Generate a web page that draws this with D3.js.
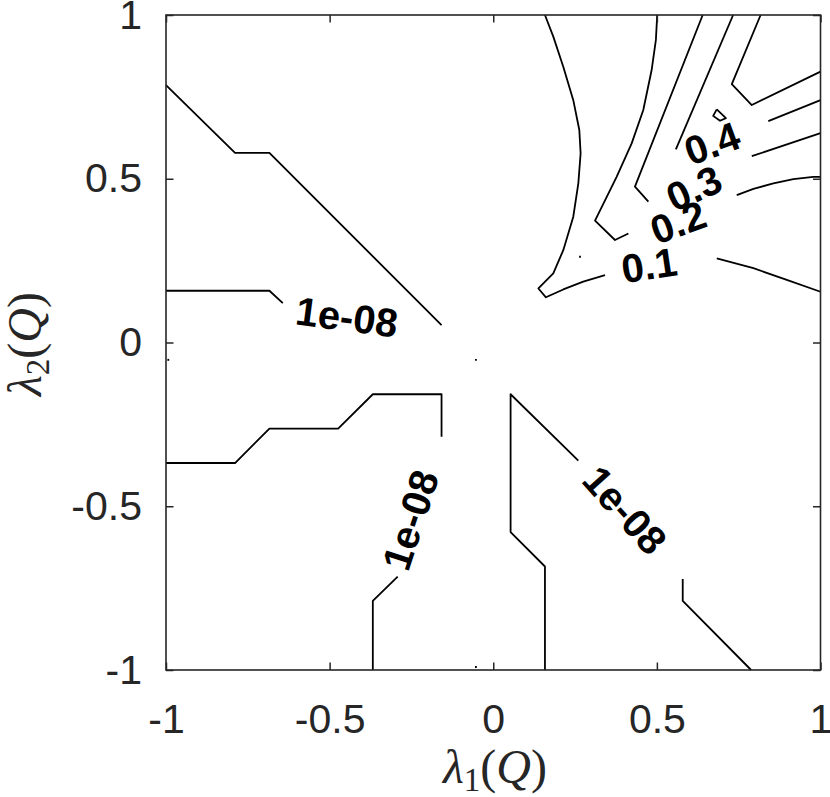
<!DOCTYPE html>
<html>
<head>
<meta charset="utf-8">
<script src="https://cdn.jsdelivr.net/npm/d3@7"></script>
<style>
  html, body { margin: 0; padding: 0; background: #fff; }
  svg { display: block; }
</style>
</head>
<body>
<svg id="chart" width="830" height="797"></svg>
<script>
// ---------- data (in data coordinates) ----------
const xTicks = [-1, -0.5, 0, 0.5, 1];
const yTicks = [-1, -0.5, 0, 0.5, 1];
const xTickLabels = ["-1", "-0.5", "0", "0.5", "1"];
const yTickLabels = ["-1", "-0.5", "0", "0.5", "1"];

// contour level 1e-08 (pieces separated by the labels)
const level1e8Lines = [
  [[-1, 0.786], [-0.789, 0.579], [-0.684, 0.579], [-0.158, 0.053]],
  [[-1, 0.158], [-0.684, 0.158], [-0.643, 0.120]],
  [[-1, -0.368], [-0.789, -0.368], [-0.684, -0.263], [-0.474, -0.263], [-0.368, -0.158], [-0.158, -0.158], [-0.158, -0.288]],
  [[-0.292, -0.715], [-0.368, -0.789], [-0.368, -1]],
  [[0.158, -1], [0.158, -0.684], [0.053, -0.579], [0.053, -0.158], [0.260, -0.361]],
  [[0.579, -0.722], [0.579, -0.789], [0.788, -1]]
];
// contour level 0.1
const level01Lines = [
  [[0.158, 1], [0.1835, 0.934], [0.214, 0.842], [0.2446, 0.740], [0.263, 0.649], [0.267, 0.578],
   [0.260, 0.486], [0.2446, 0.384], [0.214, 0.282], [0.1835, 0.211], [0.138, 0.165], [0.161, 0.138],
   [0.214, 0.162], [0.275, 0.186], [0.3415, 0.206]],
  [[0.683, 0.257], [0.795, 0.227], [0.897, 0.191], [1, 0.155]]
];
// contour level 0.2
const level02Lines = [
  [[0.501, 1], [0.497, 0.924], [0.484, 0.832], [0.4585, 0.710], [0.423, 0.608], [0.377, 0.506],
   [0.311, 0.372], [0.372, 0.313], [0.413, 0.333]],
  [[0.744, 0.450], [0.795, 0.469], [0.856, 0.486], [0.917, 0.499], [0.978, 0.506], [1, 0.506]]
];
// contour level 0.3
const level03Lines = [
  [[0.640, 1], [0.433, 0.476], [0.474, 0.430]],
  [[0.790, 0.569], [1, 0.639]]
];
// contour level 0.4
const level04Lines = [
  [[0.733, 1], [0.558, 0.590]],
  [[0.8405, 0.676], [1, 0.740]]
];
// contour level 0.5 (unlabelled) and a tiny closed loop
const level05Lines = [
  [[0.817, 1], [0.729, 0.789], [0.790, 0.725], [1, 0.827]],
  [[0.683, 0.712], [0.711, 0.685], [0.693, 0.677], [0.672, 0.692], [0.683, 0.712]]
];
// tiny contour specks
const speckLines = [
  [[0.265, 0.265], [0.265, 0.259]],
  [[-0.993, -0.050], [-0.993, -0.056]],
  [[-0.053, -0.050], [-0.053, -0.056]],
  [[-0.053, -0.988], [-0.053, -0.994]]
];

// contour labels
const labelTexts = ["1e-08", "1e-08", "1e-08", "0.1", "0.2", "0.3", "0.4"];
const labelX     = [-0.447, -0.254, 0.403, 0.476, 0.5645, 0.613, 0.668];
const labelY     = [0.079, -0.542, -0.511, 0.237, 0.368, 0.472, 0.609];
const labelAngle = [7.5, -72, 48, -8.5, -20, -24, -20];

// ---------- drawing ----------
const svg = d3.select("#chart");
const L = 166, R = 820.5, T = 15, B = 670;
const x = d3.scaleLinear().domain([-1, 1]).range([L, R]);
const y = d3.scaleLinear().domain([-1, 1]).range([B, T]);
const axisColor = "#262626";
const tickFont = "'Liberation Sans', Arial, Helvetica, sans-serif";

const line = d3.line().x(d => x(d[0])).y(d => y(d[1]));

const allLines = [].concat(level1e8Lines, level01Lines, level02Lines, level03Lines,
                           level04Lines, level05Lines, speckLines);

svg.append("g")
  .selectAll("path")
  .data(allLines)
  .join("path")
  .attr("d", line)
  .attr("fill", "none")
  .attr("stroke", "#000")
  .attr("stroke-width", 1.8)
  .attr("stroke-linejoin", "round");

// contour labels
svg.append("g")
  .selectAll("text")
  .data(labelTexts)
  .join("text")
  .attr("transform", (d, i) => `translate(${x(labelX[i])},${y(labelY[i])}) rotate(${labelAngle[i]})`)
  .attr("text-anchor", "middle")
  .attr("dy", "0.36em")
  .attr("font-family", tickFont)
  .attr("font-weight", "bold")
  .attr("font-size", 40)
  .attr("fill", "#000")
  .text(d => d);

// axes (ticks inward on all four sides)
function styleAxis(g) {
  g.select(".domain").remove();
  g.selectAll(".tick line").attr("stroke", axisColor).attr("stroke-width", 1.5);
  g.selectAll(".tick text").attr("fill", axisColor)
    .attr("font-family", tickFont).attr("font-size", 41);
}
svg.append("g").attr("transform", `translate(0,${B})`)
  .call(d3.axisBottom(x).tickValues(xTicks).tickSizeInner(-7.5).tickSizeOuter(0).tickPadding(34)
        .tickFormat((d, i) => xTickLabels[i]))
  .call(styleAxis);
svg.append("g").attr("transform", `translate(0,${T})`)
  .call(d3.axisTop(x).tickValues(xTicks).tickSizeInner(-7.5).tickSizeOuter(0).tickFormat(""))
  .call(styleAxis);
svg.append("g").attr("transform", `translate(${L},0)`)
  .call(d3.axisLeft(y).tickValues(yTicks).tickSizeInner(-7.5).tickSizeOuter(0).tickPadding(24)
        .tickFormat((d, i) => yTickLabels[i]))
  .call(styleAxis);
svg.append("g").attr("transform", `translate(${R},0)`)
  .call(d3.axisRight(y).tickValues(yTicks).tickSizeInner(-7.5).tickSizeOuter(0).tickFormat(""))
  .call(styleAxis);

// box
svg.append("rect")
  .attr("x", L).attr("y", T).attr("width", R - L).attr("height", B - T)
  .attr("fill", "none").attr("stroke", axisColor).attr("stroke-width", 1.6);

// axis labels
const serif = "'Liberation Serif', 'DejaVu Serif', 'Times New Roman', serif";
function axisLabel(sel, sub) {
  sel.attr("font-family", serif).attr("font-size", 48).attr("fill", axisColor)
     .attr("text-anchor", "middle");
  sel.append("tspan").attr("font-style", "italic").text("λ");
  sel.append("tspan").attr("font-size", 33).attr("dy", 8).text(sub);
  sel.append("tspan").attr("dy", -8).text("(");
  sel.append("tspan").attr("font-style", "italic").text("Q");
  sel.append("tspan").text(")");
}
svg.append("text").attr("x", 495).attr("y", 783).call(axisLabel, "1");
svg.append("text").attr("transform", "translate(41,344) rotate(-90)").call(axisLabel, "2");
</script>
</body>
</html>
